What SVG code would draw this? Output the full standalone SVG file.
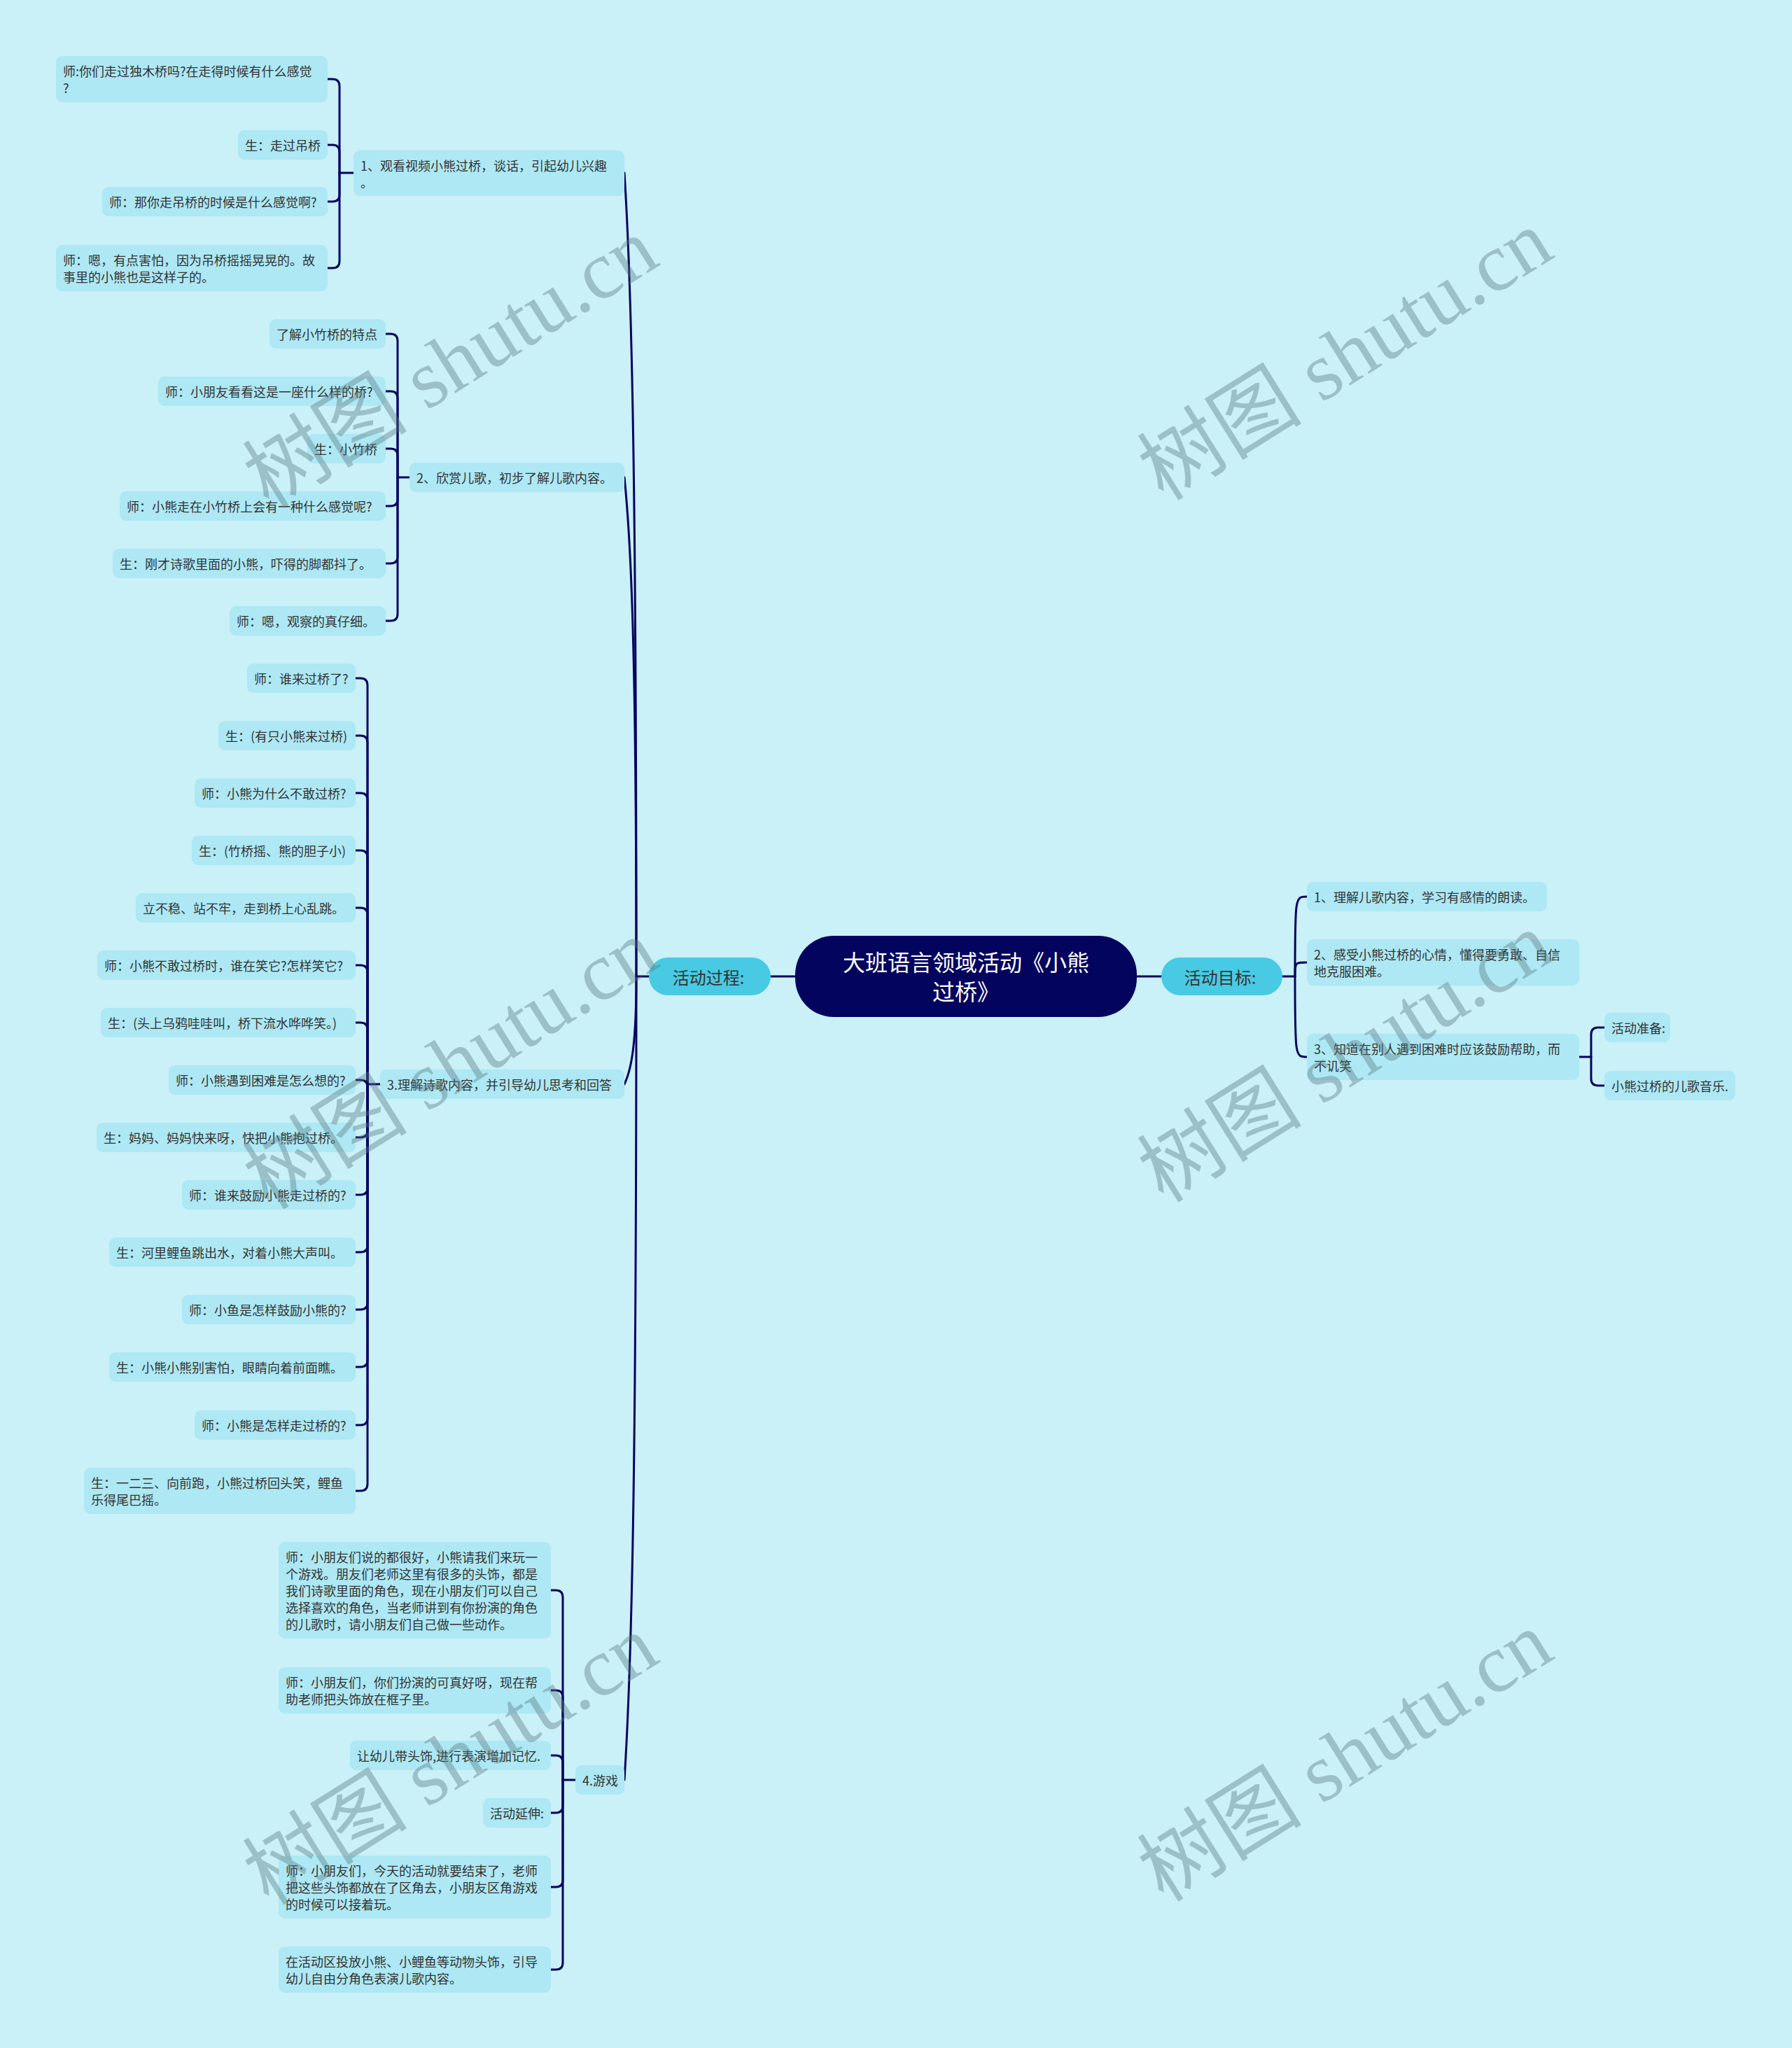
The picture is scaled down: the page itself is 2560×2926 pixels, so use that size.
<svg xmlns="http://www.w3.org/2000/svg" width="2560" height="2926" viewBox="0 0 2560 2926">
<style>
.bg{fill:#caf0f8}
.leaf{fill:#ade8f4}
.main{fill:#48cae4}
.root{fill:#03045e}
.t{font-family:"Noto Sans CJK SC","Noto Sans",sans-serif;font-size:18px;fill:#333;dominant-baseline:central}
.tm{font-family:"Noto Sans CJK SC","Noto Sans",sans-serif;font-size:24px;fill:#333;dominant-baseline:central;text-anchor:middle}
.tr{font-family:"Noto Sans CJK SC","Noto Sans",sans-serif;font-size:32px;fill:#fff;dominant-baseline:central;text-anchor:middle}
.c{fill:none;stroke:#03045e;stroke-width:3;stroke-linecap:round}
.wm{font-family:"Liberation Serif","Noto Sans CJK SC",serif;font-size:118px;fill:#5a7a80;opacity:0.4;text-anchor:middle;dominant-baseline:central}
</style>
<rect class="bg" x="0" y="0" width="2560" height="2926"/>

<g id="connectors">
  <!-- root to main -->
  <path class="c" d="M1101 1395H1136"/>
  <path class="c" d="M1624 1395H1659"/>
  <!-- left main to level 2 -->
  <path class="c" d="M927 1395H909"/>
  <path class="c" d="M909 1395C909 706 903 419 892 247"/>
  <path class="c" d="M909 1395C909 967 903 789 892 682"/>
  <path class="c" d="M909 1395C909 1487 903 1526 892 1549"/>
  <path class="c" d="M909 1395C909 2084 903 2371 892 2543"/>
  <!-- right main to level 2 -->
  <path class="c" d="M1832 1395H1850"/>
  <path class="c" d="M1850 1395C1850 1281 1850 1281 1867 1281"/>
  <path class="c" d="M1850 1395C1850 1375 1850 1375 1867 1375"/>
  <path class="c" d="M1850 1395C1850 1510 1850 1510 1867 1510"/>
  <!-- R3 children -->
  <path class="c" d="M2256 1510H2273"/>
  <path class="c" d="M2273 1510V1478Q2273 1468 2283 1468H2292"/>
  <path class="c" d="M2273 1510V1541Q2273 1551 2283 1551H2292"/>
  <!-- branch 1 -->
  <path class="c" d="M505 247H485"/>
  <path class="c" d="M485 247V123Q485 113 475 113H468"/>
  <path class="c" d="M485 247V217Q485 207 475 207H468"/>
  <path class="c" d="M485 247V278Q485 288 475 288H468"/>
  <path class="c" d="M485 247V373Q485 383 475 383H468"/>
  <!-- branch 2 -->
  <path class="c" d="M585 682H568"/>
  <path class="c" d="M568 682V487Q568 477 558 477H551"/>
  <path class="c" d="M568 682V569Q568 559 558 559H551"/>
  <path class="c" d="M568 682V651Q568 641 558 641H551"/>
  <path class="c" d="M568 682V713Q568 723 558 723H551"/>
  <path class="c" d="M568 682V795Q568 805 558 805H551"/>
  <path class="c" d="M568 682V877Q568 887 558 887H551"/>
  <!-- branch 3 -->
  <path class="c" d="M543 1549H525"/>
  <path class="c" d="M525 1549V979Q525 969 515 969H508"/>
  <path class="c" d="M525 1549V1061Q525 1051 515 1051H508"/>
  <path class="c" d="M525 1549V1143Q525 1133 515 1133H508"/>
  <path class="c" d="M525 1549V1225Q525 1215 515 1215H508"/>
  <path class="c" d="M525 1549V1307Q525 1297 515 1297H508"/>
  <path class="c" d="M525 1549V1389Q525 1379 515 1379H508"/>
  <path class="c" d="M525 1549V1471Q525 1461 515 1461H508"/>
  <path class="c" d="M525 1549V1553Q525 1543 515 1543H508"/>
  <path class="c" d="M525 1549V1615Q525 1625 515 1625H508"/>
  <path class="c" d="M525 1549V1697Q525 1707 515 1707H508"/>
  <path class="c" d="M525 1549V1779Q525 1789 515 1789H508"/>
  <path class="c" d="M525 1549V1861Q525 1871 515 1871H508"/>
  <path class="c" d="M525 1549V1943Q525 1953 515 1953H508"/>
  <path class="c" d="M525 1549V2026Q525 2036 515 2036H508"/>
  <path class="c" d="M525 1549V2120Q525 2130 515 2130H508"/>
  <!-- branch 4 -->
  <path class="c" d="M822 2543H804"/>
  <path class="c" d="M804 2543V2282Q804 2272 794 2272H787"/>
  <path class="c" d="M804 2543V2425Q804 2415 794 2415H787"/>
  <path class="c" d="M804 2543V2518Q804 2508 794 2508H787"/>
  <path class="c" d="M804 2543V2580Q804 2590 794 2590H787"/>
  <path class="c" d="M804 2543V2686Q804 2696 794 2696H787"/>
  <path class="c" d="M804 2543V2804Q804 2814 794 2814H787"/>
</g>

<g id="root">
  <rect class="root" x="1136" y="1337" width="488" height="116" rx="55"/>
  <text class="tr" x="1380" y="1373">大班语言领域活动《小熊</text>
  <text class="tr" x="1380" y="1415">过桥》</text>
</g>

<g id="main-process">
  <rect class="main" x="927" y="1368" width="174" height="54" rx="27"/>
  <text class="tm" x="1012" y="1395">活动过程:</text>
</g>
<g id="main-goal">
  <rect class="main" x="1659" y="1368" width="173" height="54" rx="27"/>
  <text class="tm" x="1743" y="1395">活动目标:</text>
</g>

<!-- right side -->
<g id="r1">
  <rect class="leaf" x="1867" y="1260" width="343" height="42" rx="9"/>
  <text class="t" x="1877" y="1281">1、理解儿歌内容，学习有感情的朗读。</text>
</g>
<g id="r2">
  <rect class="leaf" x="1867" y="1342" width="389" height="66" rx="9"/>
  <text class="t" x="1877" y="1363">2、感受小熊过桥的心情，懂得要勇敢、自信</text>
  <text class="t" x="1877" y="1387">地克服困难。</text>
</g>
<g id="r3">
  <rect class="leaf" x="1867" y="1477" width="389" height="66" rx="9"/>
  <text class="t" x="1877" y="1498">3、知道在别人遇到困难时应该鼓励帮助，而</text>
  <text class="t" x="1877" y="1522">不讥笑</text>
</g>
<g id="r3a">
  <rect class="leaf" x="2292" y="1447" width="94" height="42" rx="9"/>
  <text class="t" x="2302" y="1468">活动准备:</text>
</g>
<g id="r3b">
  <rect class="leaf" x="2292" y="1530" width="187" height="42" rx="9"/>
  <text class="t" x="2302" y="1551">小熊过桥的儿歌音乐.</text>
</g>

<!-- branch 1 -->
<g id="b1">
  <rect class="leaf" x="505" y="215" width="387" height="65" rx="9"/>
  <text class="t" x="515" y="236">1、观看视频小熊过桥，谈话，引起幼儿兴趣</text>
  <text class="t" x="515" y="260">。</text>
</g>
<g id="b1a">
  <rect class="leaf" x="80" y="80" width="388" height="66" rx="9"/>
  <text class="t" x="90" y="101">师:你们走过独木桥吗?在走得时候有什么感觉</text>
  <text class="t" x="90" y="125">?</text>
</g>
<g id="b1b">
  <rect class="leaf" x="340" y="186" width="128" height="42" rx="9"/>
  <text class="t" x="350" y="207">生：走过吊桥</text>
</g>
<g id="b1c">
  <rect class="leaf" x="146" y="267" width="322" height="42" rx="9"/>
  <text class="t" x="156" y="288">师：那你走吊桥的时候是什么感觉啊?</text>
</g>
<g id="b1d">
  <rect class="leaf" x="80" y="350" width="388" height="66" rx="9"/>
  <text class="t" x="90" y="371">师：嗯，有点害怕，因为吊桥摇摇晃晃的。故</text>
  <text class="t" x="90" y="395">事里的小熊也是这样子的。</text>
</g>

<!-- branch 2 -->
<g id="b2">
  <rect class="leaf" x="585" y="661" width="307" height="42" rx="9"/>
  <text class="t" x="595" y="682">2、欣赏儿歌，初步了解儿歌内容。</text>
</g>
<g id="b2a">
  <rect class="leaf" x="385" y="456" width="166" height="42" rx="9"/>
  <text class="t" x="395" y="477">了解小竹桥的特点</text>
</g>
<g id="b2b">
  <rect class="leaf" x="226" y="538" width="325" height="42" rx="9"/>
  <text class="t" x="236" y="559">师：小朋友看看这是一座什么样的桥?</text>
</g>
<g id="b2c">
  <rect class="leaf" x="439" y="620" width="112" height="42" rx="9"/>
  <text class="t" x="449" y="641">生：小竹桥</text>
</g>
<g id="b2d">
  <rect class="leaf" x="171" y="702" width="380" height="42" rx="9"/>
  <text class="t" x="181" y="723">师：小熊走在小竹桥上会有一种什么感觉呢?</text>
</g>
<g id="b2e">
  <rect class="leaf" x="161" y="784" width="390" height="42" rx="9"/>
  <text class="t" x="171" y="805">生：刚才诗歌里面的小熊，吓得的脚都抖了。</text>
</g>
<g id="b2f">
  <rect class="leaf" x="328" y="866" width="223" height="42" rx="9"/>
  <text class="t" x="338" y="887">师：嗯，观察的真仔细。</text>
</g>

<!-- branch 3 -->
<g id="b3">
  <rect class="leaf" x="543" y="1528" width="349" height="42" rx="9"/>
  <text class="t" x="553" y="1549">3.理解诗歌内容，并引导幼儿思考和回答</text>
</g>
<g id="b3a">
  <rect class="leaf" x="353" y="948" width="155" height="42" rx="9"/>
  <text class="t" x="363" y="969">师：谁来过桥了?</text>
</g>
<g id="b3b">
  <rect class="leaf" x="312" y="1030" width="196" height="42" rx="9"/>
  <text class="t" x="322" y="1051">生：(有只小熊来过桥)</text>
</g>
<g id="b3c">
  <rect class="leaf" x="278" y="1112" width="230" height="42" rx="9"/>
  <text class="t" x="288" y="1133">师：小熊为什么不敢过桥?</text>
</g>
<g id="b3d">
  <rect class="leaf" x="274" y="1194" width="234" height="42" rx="9"/>
  <text class="t" x="284" y="1215">生：(竹桥摇、熊的胆子小)</text>
</g>
<g id="b3e">
  <rect class="leaf" x="194" y="1276" width="314" height="42" rx="9"/>
  <text class="t" x="204" y="1297">立不稳、站不牢，走到桥上心乱跳。</text>
</g>
<g id="b3f">
  <rect class="leaf" x="139" y="1358" width="369" height="42" rx="9"/>
  <text class="t" x="149" y="1379">师：小熊不敢过桥时，谁在笑它?怎样笑它?</text>
</g>
<g id="b3g">
  <rect class="leaf" x="144" y="1440" width="364" height="42" rx="9"/>
  <text class="t" x="154" y="1461">生：(头上乌鸦哇哇叫，桥下流水哗哗笑。)</text>
</g>
<g id="b3h">
  <rect class="leaf" x="241" y="1522" width="267" height="42" rx="9"/>
  <text class="t" x="251" y="1543">师：小熊遇到困难是怎么想的?</text>
</g>
<g id="b3i">
  <rect class="leaf" x="138" y="1604" width="370" height="42" rx="9"/>
  <text class="t" x="148" y="1625">生：妈妈、妈妈快来呀，快把小熊抱过桥。</text>
</g>
<g id="b3j">
  <rect class="leaf" x="260" y="1686" width="248" height="42" rx="9"/>
  <text class="t" x="270" y="1707">师：谁来鼓励小熊走过桥的?</text>
</g>
<g id="b3k">
  <rect class="leaf" x="156" y="1768" width="352" height="42" rx="9"/>
  <text class="t" x="166" y="1789">生：河里鲤鱼跳出水，对着小熊大声叫。</text>
</g>
<g id="b3l">
  <rect class="leaf" x="260" y="1850" width="248" height="42" rx="9"/>
  <text class="t" x="270" y="1871">师：小鱼是怎样鼓励小熊的?</text>
</g>
<g id="b3m">
  <rect class="leaf" x="156" y="1932" width="352" height="42" rx="9"/>
  <text class="t" x="166" y="1953">生：小熊小熊别害怕，眼睛向着前面瞧。</text>
</g>
<g id="b3n">
  <rect class="leaf" x="278" y="2015" width="230" height="42" rx="9"/>
  <text class="t" x="288" y="2036">师：小熊是怎样走过桥的?</text>
</g>
<g id="b3o">
  <rect class="leaf" x="120" y="2097" width="388" height="66" rx="9"/>
  <text class="t" x="130" y="2118">生：一二三、向前跑，小熊过桥回头笑，鲤鱼</text>
  <text class="t" x="130" y="2142">乐得尾巴摇。</text>
</g>

<!-- branch 4 -->
<g id="b4">
  <rect class="leaf" x="822" y="2522" width="70" height="42" rx="9"/>
  <text class="t" x="832" y="2543">4.游戏</text>
</g>
<g id="b4a">
  <rect class="leaf" x="398" y="2203" width="389" height="138" rx="9"/>
  <text class="t" x="408" y="2224">师：小朋友们说的都很好，小熊请我们来玩一</text>
  <text class="t" x="408" y="2248">个游戏。朋友们老师这里有很多的头饰，都是</text>
  <text class="t" x="408" y="2272">我们诗歌里面的角色，现在小朋友们可以自己</text>
  <text class="t" x="408" y="2296">选择喜欢的角色，当老师讲到有你扮演的角色</text>
  <text class="t" x="408" y="2320">的儿歌时，请小朋友们自己做一些动作。</text>
</g>
<g id="b4b">
  <rect class="leaf" x="398" y="2382" width="389" height="66" rx="9"/>
  <text class="t" x="408" y="2403">师：小朋友们，你们扮演的可真好呀，现在帮</text>
  <text class="t" x="408" y="2427">助老师把头饰放在框子里。</text>
</g>
<g id="b4c">
  <rect class="leaf" x="500" y="2487" width="287" height="42" rx="9"/>
  <text class="t" x="510" y="2508">让幼儿带头饰,进行表演增加记忆.</text>
</g>
<g id="b4d">
  <rect class="leaf" x="690" y="2569" width="97" height="42" rx="9"/>
  <text class="t" x="700" y="2590">活动延伸:</text>
</g>
<g id="b4e">
  <rect class="leaf" x="398" y="2651" width="389" height="90" rx="9"/>
  <text class="t" x="408" y="2672">师：小朋友们，今天的活动就要结束了，老师</text>
  <text class="t" x="408" y="2696">把这些头饰都放在了区角去，小朋友区角游戏</text>
  <text class="t" x="408" y="2720">的时候可以接着玩。</text>
</g>
<g id="b4f">
  <rect class="leaf" x="398" y="2781" width="389" height="66" rx="9"/>
  <text class="t" x="408" y="2802">在活动区投放小熊、小鲤鱼等动物头饰，引导</text>
  <text class="t" x="408" y="2826">幼儿自由分角色表演儿歌内容。</text>
</g>

<g id="watermarks">
  <text class="wm" transform="translate(644 519) rotate(-32)">树图 shutu.cn</text>
  <text class="wm" transform="translate(1922 508) rotate(-32)">树图 shutu.cn</text>
  <text class="wm" transform="translate(644 1521) rotate(-32)">树图 shutu.cn</text>
  <text class="wm" transform="translate(1922 1511) rotate(-32)">树图 shutu.cn</text>
  <text class="wm" transform="translate(644 2515) rotate(-32)">树图 shutu.cn</text>
  <text class="wm" transform="translate(1922 2510) rotate(-32)">树图 shutu.cn</text>
</g>
</svg>
